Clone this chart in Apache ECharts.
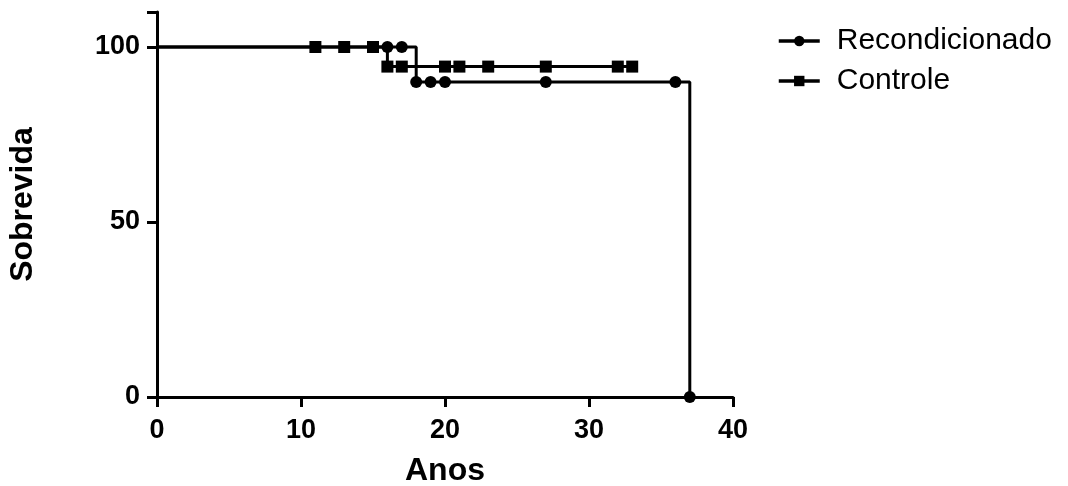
<!DOCTYPE html>
<html>
<head>
<meta charset="utf-8">
<script src="https://cdn.jsdelivr.net/npm/echarts@6/dist/echarts.min.js"></script>
<style>
  html, body { margin: 0; padding: 0; background: #fff; }
  #chart { width: 1068px; height: 486px; }
</style>
</head>
<body>
<div id="chart"></div>
<script>
// curva Recondicionado: pontos do degrau (primeiro ponto sem marcador)
const recondX = [0, 16, 17, 18, 19, 20, 27, 36, 37];
const recondY = [100, 100, 100, 90, 90, 90, 90, 90, 0];

// curva Controle
const controleX = [0, 11, 13, 15, 16, 17, 20, 21, 23, 27, 32, 33];
const controleY = [100, 100, 100, 100, 94.4, 94.4, 94.4, 94.4, 94.4, 94.4, 94.4, 94.4];

const seriesNames = ['Recondicionado', 'Controle'];
const xTicks = [0, 10, 20, 30, 40];
const yTicks = [0, 50, 100];

function toData(xs, ys) {
  return xs.map((x, i) => {
    let item = { value: [x, ys[i]] };
    if (i === 0) item.symbol = 'none';
    return item;
  });
}

const myChart = echarts.init(document.getElementById('chart'));

const axisFont = {
  color: '#000',
  fontFamily: 'Liberation Sans',
  fontWeight: 'bold',
  fontSize: 27
};

let option = {
  animation: false,
  backgroundColor: '#fff',
  grid: {
    left: 157,
    right: 335,
    top: 12,
    bottom: 89,
    outerBoundsMode: 'none'
  },
  legend: {
    orient: 'vertical',
    left: 772,
    top: 21,
    itemWidth: 41,
    itemHeight: 13,
    itemGap: 10,
    lineStyle: { width: 3.5, color: '#000' },
    textStyle: {
      color: '#000',
      fontFamily: 'Liberation Sans',
      fontSize: 30,
      padding: [0, 0, 0, 12]
    },
    data: seriesNames
  },
  xAxis: {
    type: 'value',
    min: xTicks[0],
    max: xTicks[xTicks.length - 1],
    interval: 10,
    name: 'Anos',
    nameLocation: 'middle',
    nameGap: 58,
    nameTextStyle: Object.assign({}, axisFont, { fontSize: 32 }),
    axisLine: { lineStyle: { color: '#000', width: 3 } },
    axisTick: { show: true, length: 10, lineStyle: { color: '#000', width: 3 } },
    axisLabel: Object.assign({}, axisFont, { margin: 20 }),
    splitLine: { show: false }
  },
  yAxis: {
    type: 'value',
    min: yTicks[0],
    max: 110,
    interval: 50,
    name: 'Sobrevida',
    nameLocation: 'middle',
    nameGap: 118,
    nameTextStyle: Object.assign({}, axisFont, { fontSize: 32 }),
    axisLine: { show: true, lineStyle: { color: '#000', width: 3 } },
    axisTick: { show: true, length: 10, lineStyle: { color: '#000', width: 3 } },
    axisLabel: Object.assign({}, axisFont, {
      margin: 17,
      formatter: v => (yTicks.indexOf(v) >= 0 ? String(v) : '')
    }),
    splitLine: { show: false }
  },
  series: [
    {
      name: seriesNames[0],
      type: 'line',
      step: 'end',
      data: toData(recondX, recondY),
      symbol: 'circle',
      symbolSize: 12,
      showAllSymbol: true,
      color: '#000',
      lineStyle: { color: '#000', width: 3 },
      itemStyle: { color: '#000' },
      z: 3
    },
    {
      name: seriesNames[1],
      type: 'line',
      step: 'end',
      data: toData(controleX, controleY),
      symbol: 'rect',
      symbolSize: 12,
      showAllSymbol: true,
      color: '#000',
      lineStyle: { color: '#000', width: 3 },
      itemStyle: { color: '#000' },
      z: 2
    }
  ]
};

myChart.setOption(option);
window.onresize = myChart.resize;
</script>
</body>
</html>
